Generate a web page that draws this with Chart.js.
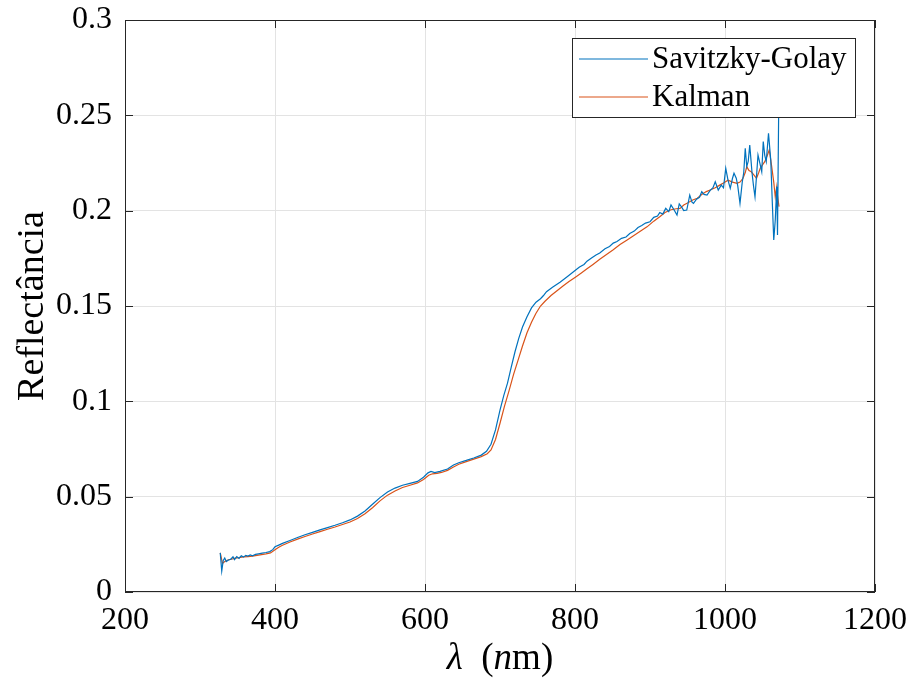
<!DOCTYPE html>
<html>
<head>
<meta charset="utf-8">
<script src="https://cdn.jsdelivr.net/npm/chart.js@4.4.0/dist/chart.umd.min.js"></script>
<style>
  html, body { margin: 0; padding: 0; background: #fff; }
  #wrap { width: 910px; height: 683px; }
</style>
</head>
<body>
<div id="wrap"><canvas id="grafico"></canvas></div>
<script>
// Datos (longitud de onda en nm, reflectancia)
const lambdaSG = [327, 329, 331, 333, 335, 338, 341, 344, 346, 349, 352, 355, 358, 361, 364, 367, 370, 374, 378, 383, 388, 393, 397, 400, 405, 410, 420, 430, 440, 450, 460, 470, 480, 490, 500, 510, 520, 530, 540, 550, 560, 570, 580, 590, 598, 604, 608, 613, 620, 630, 638, 645, 655, 665, 675, 682, 688, 694, 700, 705, 710, 715, 720, 725, 730, 736, 742, 748, 754, 758, 762, 770, 780, 790, 798, 806, 812, 816, 822, 828, 833, 840, 846, 851, 856, 862, 868, 873, 879, 884, 889, 894, 900, 905, 910, 913, 917, 921, 925, 928, 932, 936, 939, 942, 945, 949, 953, 956, 958, 962, 966, 969, 972, 976, 980, 984, 987, 991, 995, 998, 1001, 1004, 1007, 1010, 1012, 1015, 1017, 1020, 1023, 1025, 1027, 1029, 1031, 1033, 1036, 1038, 1040, 1042, 1044, 1047, 1049, 1051, 1053, 1055, 1058, 1061, 1063, 1065, 1067, 1069, 1070, 1072];
const savitzkyGolay = [0.0205, 0.0110, 0.0165, 0.0178, 0.0160, 0.0168, 0.0172, 0.0185, 0.0170, 0.0186, 0.0176, 0.0190, 0.0183, 0.0192, 0.0188, 0.0194, 0.0190, 0.0197, 0.0200, 0.0204, 0.0207, 0.0212, 0.0222, 0.0237, 0.0246, 0.0255, 0.0270, 0.0286, 0.0300, 0.0313, 0.0326, 0.0338, 0.0350, 0.0363, 0.0378, 0.0398, 0.0425, 0.0460, 0.0495, 0.0525, 0.0545, 0.0560, 0.0570, 0.0580, 0.0602, 0.0625, 0.0632, 0.0626, 0.0633, 0.0645, 0.0666, 0.0678, 0.0690, 0.0703, 0.0718, 0.0738, 0.0775, 0.0850, 0.0954, 0.1030, 0.1095, 0.1180, 0.1260, 0.1330, 0.1390, 0.1444, 0.1490, 0.1520, 0.1538, 0.1555, 0.1575, 0.1598, 0.1625, 0.1655, 0.1680, 0.1704, 0.1718, 0.1735, 0.1752, 0.1768, 0.1778, 0.1800, 0.1812, 0.1830, 0.1838, 0.1855, 0.1862, 0.1880, 0.1893, 0.1912, 0.1922, 0.1935, 0.1942, 0.1965, 0.1972, 0.1990, 0.1982, 0.2012, 0.1995, 0.2030, 0.2005, 0.1977, 0.2035, 0.2020, 0.2000, 0.2003, 0.2082, 0.2045, 0.2038, 0.2060, 0.2070, 0.2100, 0.2085, 0.2082, 0.2105, 0.2120, 0.2152, 0.2108, 0.2134, 0.2120, 0.2222, 0.2160, 0.2117, 0.2170, 0.2196, 0.2170, 0.2130, 0.2038, 0.2150, 0.2200, 0.2327, 0.2231, 0.2260, 0.2344, 0.2200, 0.2130, 0.2073, 0.2180, 0.2292, 0.2240, 0.2204, 0.2362, 0.2290, 0.2257, 0.2406, 0.2266, 0.2050, 0.1846, 0.1950, 0.2126, 0.1872, 0.2700];

const lambdaK = [327, 330, 333, 337, 342, 347, 352, 358, 364, 370, 376, 382, 388, 394, 400, 405, 410, 420, 430, 440, 450, 460, 470, 480, 490, 500, 510, 520, 530, 540, 550, 560, 570, 580, 590, 598, 605, 610, 616, 622, 630, 638, 645, 655, 665, 675, 683, 688, 694, 700, 706, 712, 718, 724, 730, 736, 742, 748, 754, 760, 768, 776, 784, 792, 800, 808, 816, 824, 833, 842, 851, 860, 869, 878, 887, 896, 905, 913, 920, 928, 935, 940, 945, 950, 957, 963, 969, 975, 981, 987, 993, 998, 1004, 1010, 1016, 1020, 1024, 1027, 1029, 1032, 1035, 1039, 1042, 1045, 1047, 1050, 1053, 1056, 1059, 1062, 1065, 1067, 1069, 1070, 1072];
const kalman = [0.0205, 0.0150, 0.0160, 0.0168, 0.0172, 0.0178, 0.0180, 0.0184, 0.0186, 0.0188, 0.0192, 0.0196, 0.0200, 0.0205, 0.0222, 0.0235, 0.0245, 0.0262, 0.0277, 0.0291, 0.0304, 0.0317, 0.0329, 0.0341, 0.0354, 0.0367, 0.0385, 0.0410, 0.0442, 0.0478, 0.0508, 0.0530, 0.0548, 0.0560, 0.0572, 0.0590, 0.0612, 0.0620, 0.0622, 0.0627, 0.0638, 0.0656, 0.0670, 0.0684, 0.0697, 0.0710, 0.0725, 0.0745, 0.0800, 0.0885, 0.0975, 0.1055, 0.1140, 0.1215, 0.1290, 0.1360, 0.1415, 0.1462, 0.1500, 0.1525, 0.1555, 0.1580, 0.1605, 0.1628, 0.1650, 0.1672, 0.1695, 0.1718, 0.1745, 0.1770, 0.1795, 0.1822, 0.1845, 0.1868, 0.1892, 0.1915, 0.1945, 0.1968, 0.1990, 0.2005, 0.2010, 0.2012, 0.2030, 0.2040, 0.2056, 0.2065, 0.2085, 0.2100, 0.2110, 0.2120, 0.2134, 0.2145, 0.2160, 0.2150, 0.2143, 0.2150, 0.2170, 0.2200, 0.2231, 0.2210, 0.2204, 0.2185, 0.2170, 0.2200, 0.2222, 0.2240, 0.2257, 0.2285, 0.2318, 0.2239, 0.2150, 0.2073, 0.2126, 0.2080, 0.2021];

const xTicks = [200, 400, 600, 800, 1000, 1200];
const yTicks = [0, 0.05, 0.1, 0.15, 0.2, 0.25, 0.3];
const yTickLabels = ["0", "0.05", "0.1", "0.15", "0.2", "0.25", "0.3"];
const seriesNames = ["Savitzky-Golay", "Kalman"];

const AZUL = "#0072BD";
const NARANJA = "#D95319";
const FUENTE = "'Liberation Serif', 'DejaVu Serif', serif";

const toPoints = (xs, ys) => xs.map((x, i) => ({ x: x, y: ys[i] }));

// quitar el relleno automático por etiquetas, para fijar el área del gráfico
const sinRelleno = s => {
    s.paddingTop = 0; s.paddingBottom = 0; s.paddingLeft = 0; s.paddingRight = 0;
};

// marco, marcas internas, títulos y leyenda estilo MATLAB
const marcoPlugin = {
    id: "marco",
    afterDraw(chart) {
        const { ctx, chartArea: a, scales } = chart;
        const sx = scales.x, sy = scales.y;
        ctx.save();
        ctx.strokeStyle = "#262626";
        ctx.lineWidth = 1;
        ctx.strokeRect(a.left + 0.5, a.top + 0.5, a.right - a.left - 1, a.bottom - a.top - 1);
        const t = 8;
        ctx.beginPath();
        xTicks.forEach(v => {
            const p = Math.round(sx.getPixelForValue(v)) + 0.5;
            ctx.moveTo(p, a.bottom); ctx.lineTo(p, a.bottom - t);
            ctx.moveTo(p, a.top); ctx.lineTo(p, a.top + t);
        });
        yTicks.forEach(v => {
            const p = Math.round(sy.getPixelForValue(v)) + 0.5;
            ctx.moveTo(a.left, p); ctx.lineTo(a.left + t, p);
            ctx.moveTo(a.right, p); ctx.lineTo(a.right - t, p);
        });
        ctx.stroke();

        // título eje y
        ctx.fillStyle = "#000";
        ctx.font = "38px " + FUENTE;
        ctx.textAlign = "center";
        ctx.textBaseline = "alphabetic";
        ctx.save();
        ctx.translate(43, (a.top + a.bottom) / 2);
        ctx.rotate(-Math.PI / 2);
        ctx.fillText("Reflectância", 0, 0);
        ctx.restore();

        // título eje x: λ (nm) con λ y n en cursiva
        const partes = [
            { s: "λ", it: true }, { s: "  (", it: false }, { s: "n", it: true }, { s: "m)", it: false }
        ];
        const fontFor = it => (it ? "italic " : "") + "37px " + FUENTE;
        let total = 0;
        partes.forEach(p => { ctx.font = fontFor(p.it); total += ctx.measureText(p.s).width; });
        let x = (a.left + a.right) / 2 - total / 2;
        ctx.textAlign = "left";
        partes.forEach(p => {
            ctx.font = fontFor(p.it);
            ctx.fillText(p.s, x, 669);
            x += ctx.measureText(p.s).width;
        });

        // leyenda
        const lx = 572, ly = 38, lw = 283, lh = 79;
        ctx.fillStyle = "#fff";
        ctx.fillRect(lx, ly, lw, lh);
        ctx.strokeStyle = "#262626";
        ctx.strokeRect(lx + 0.5, ly + 0.5, lw, lh);
        const colores = [AZUL, NARANJA];
        seriesNames.forEach((n, i) => {
            const yy = ly + 21 + i * 38;
            ctx.strokeStyle = colores[i];
            ctx.lineWidth = 1.2;
            ctx.beginPath();
            ctx.moveTo(lx + 7, yy); ctx.lineTo(lx + 76, yy);
            ctx.stroke();
            ctx.fillStyle = "#000";
            ctx.font = "31px " + FUENTE;
            ctx.textBaseline = "middle";
            ctx.fillText(n, lx + 80, yy + 1);
        });
        ctx.restore();
    }
};

const ctx = document.getElementById("grafico").getContext("2d");
new Chart(ctx, {
    type: "line",
    data: {
        datasets: [
            {
                label: seriesNames[0],
                data: toPoints(lambdaSG, savitzkyGolay),
                borderColor: AZUL,
                borderWidth: 1.2,
                pointRadius: 0,
                tension: 0
            },
            {
                label: seriesNames[1],
                data: toPoints(lambdaK, kalman),
                borderColor: NARANJA,
                borderWidth: 1.2,
                pointRadius: 0,
                tension: 0
            }
        ]
    },
    options: {
        responsive: true,
        maintainAspectRatio: false,
        animation: false,
        layout: { padding: { top: 20, right: 35, left: 0, bottom: 0 } },
        plugins: {
            legend: { display: false },
            tooltip: { enabled: false }
        },
        scales: {
            x: {
                type: "linear",
                min: 200,
                max: 1200,
                afterFit: s => { s.height = 91; sinRelleno(s); },
                afterBuildTicks: s => { s.ticks = xTicks.map(v => ({ value: v })); },
                grid: { color: "#e3e3e3", drawTicks: false },
                border: { display: false },
                ticks: {
                    padding: 9,
                    color: "#000",
                    font: { family: FUENTE, size: 32 },
                    callback: v => String(v)
                }
            },
            y: {
                min: 0,
                max: 0.3,
                afterFit: s => { s.width = 125; sinRelleno(s); },
                afterBuildTicks: s => { s.ticks = yTicks.map(v => ({ value: v })); },
                grid: { color: "#e3e3e3", drawTicks: false },
                border: { display: false },
                ticks: {
                    padding: 13,
                    color: "#000",
                    font: { family: FUENTE, size: 32 },
                    callback: v => yTickLabels[yTicks.indexOf(v)] ?? String(v)
                }
            }
        }
    },
    plugins: [marcoPlugin]
});
</script>
</body>
</html>
